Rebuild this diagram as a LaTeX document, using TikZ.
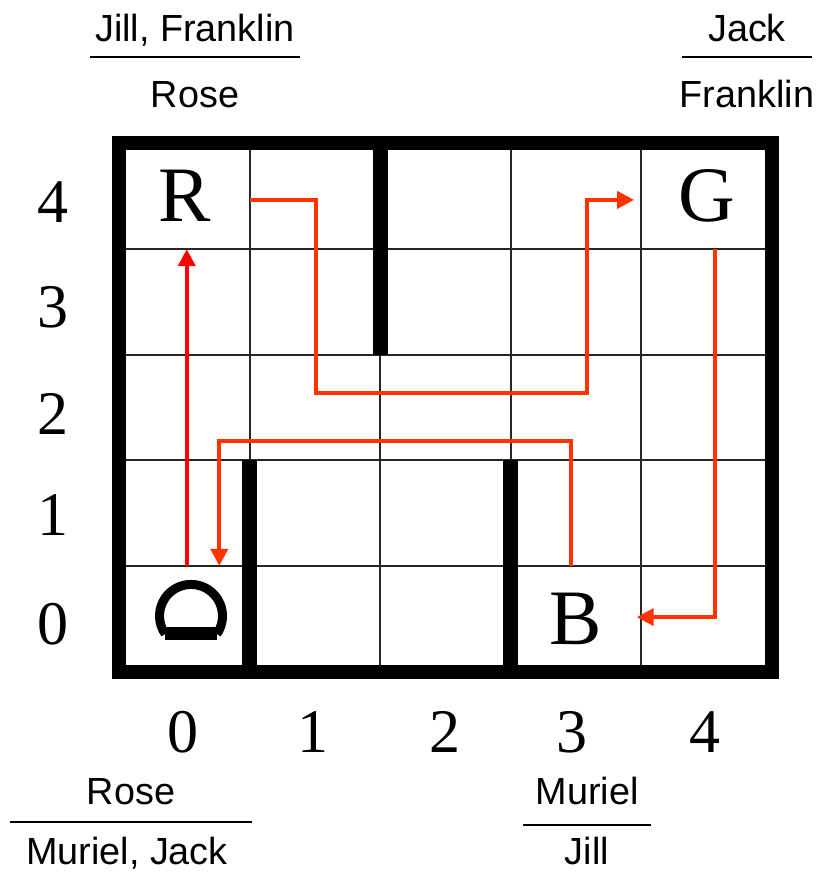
\documentclass[tikz,border=0pt]{standalone}
\usepackage{fontspec}
\setmainfont{Liberation Serif}
\newfontfamily\agentfont{Liberation Sans}
\usetikzlibrary{arrows.meta,positioning,calc}
\definecolor{routered}{HTML}{FF3300}

\begin{document}
\begin{tikzpicture}[
  x=0.02cm, y=-0.02cm,
  cell/.style={minimum width=2.612cm, minimum height=2.116cm, inner sep=0pt, font=\fontsize{44.7}{50}\selectfont},
  coordlabel/.style={inner sep=0pt, font=\fontsize{35.3}{40}\selectfont},
  agent/.style={inner sep=0pt, anchor=base, font=\agentfont\fontsize{21.5}{25}\selectfont},
  gridline/.style={line width=0.04cm, black!85},
  wall/.style={line width=0.3cm},
  rule/.style={line width=0.05cm},
  route/.style={line width=0.08cm, routered, -{Triangle[length=0.34cm,width=0.34cm]}}
]
\useasboundingbox (0,0) rectangle (816,876);

% grid
\foreach \i in {1,...,4} {
  \draw[gridline] ({119+130.6*\i},143) -- ({119+130.6*\i},672);
  \draw[gridline] (119,{143+105.8*\i}) -- (772,{143+105.8*\i});
}
\draw[line width=0.28cm] (119,143) rectangle (772,672);

% walls
\draw[wall] (380.2,143) -- (380.2,354.6);
\draw[wall] (249.6,460.4) -- (249.6,672);
\draw[wall] (510.8,460.4) -- (510.8,672);

% cells
\node[cell] (R) at (184.3,195.9) {R};
\node[cell] (G) at (706.7,195.9) {G};
\node[cell] (B) at (576.1,619.1) {B};
\node[cell] (D) at (184.3,619.1) {};
\draw[line width=0.18cm] (216.8,634) arc[start angle=-35, end angle=215, radius=0.63cm];
\fill (165,627) rectangle (217,640);

% axes
\foreach \r/\y in {4/202,3/307,2/414,1/515,0/624}
  \node[coordlabel] (row\r) at (53,\y) {\r};
\foreach \c/\x in {0/183,1/313,2/445,3/572,4/705}
  \node[coordlabel] (col\c) at (\x,732) {\c};

% routes
\draw[route, red] ([xshift=0.05cm]D.north) -- ([xshift=0.05cm]R.south);
\draw[route] ([yshift=-0.08cm]R.east) -- ++(65.7,0) |- ++(271.7,193.1)
  |- ([xshift=-0.14cm,yshift=-0.08cm]G.west);
\draw[route] ([xshift=0.17cm]G.south) |- ([xshift=-0.1cm,yshift=0.04cm]B.east);
\draw[route] ([xshift=-0.1cm]B.north) -- ++(0,-125) -| ([xshift=0.7cm]D.north);

% labels
\node[agent] (rTop) at (195,41) {Jill, Franklin};
\node[agent] (rBot) at (195,107) {Rose};
\draw[rule] (90,57) -- (300,57);
\node[agent] (gTop) at (747,41) {Jack};
\node[agent] (gBot) at (747,107) {Franklin};
\draw[rule] (682,57) -- (812,57);
\node[agent] (dTop) at (131,804) {Rose};
\node[agent] (dBot) at (127,864) {Muriel, Jack};
\draw[rule] (10,822) -- (252,822);
\node[agent] (bTop) at (587,804) {Muriel};
\node[agent] (bBot) at (587,864) {Jill};
\draw[rule] (523,825) -- (651,825);

\end{tikzpicture}
\end{document}
